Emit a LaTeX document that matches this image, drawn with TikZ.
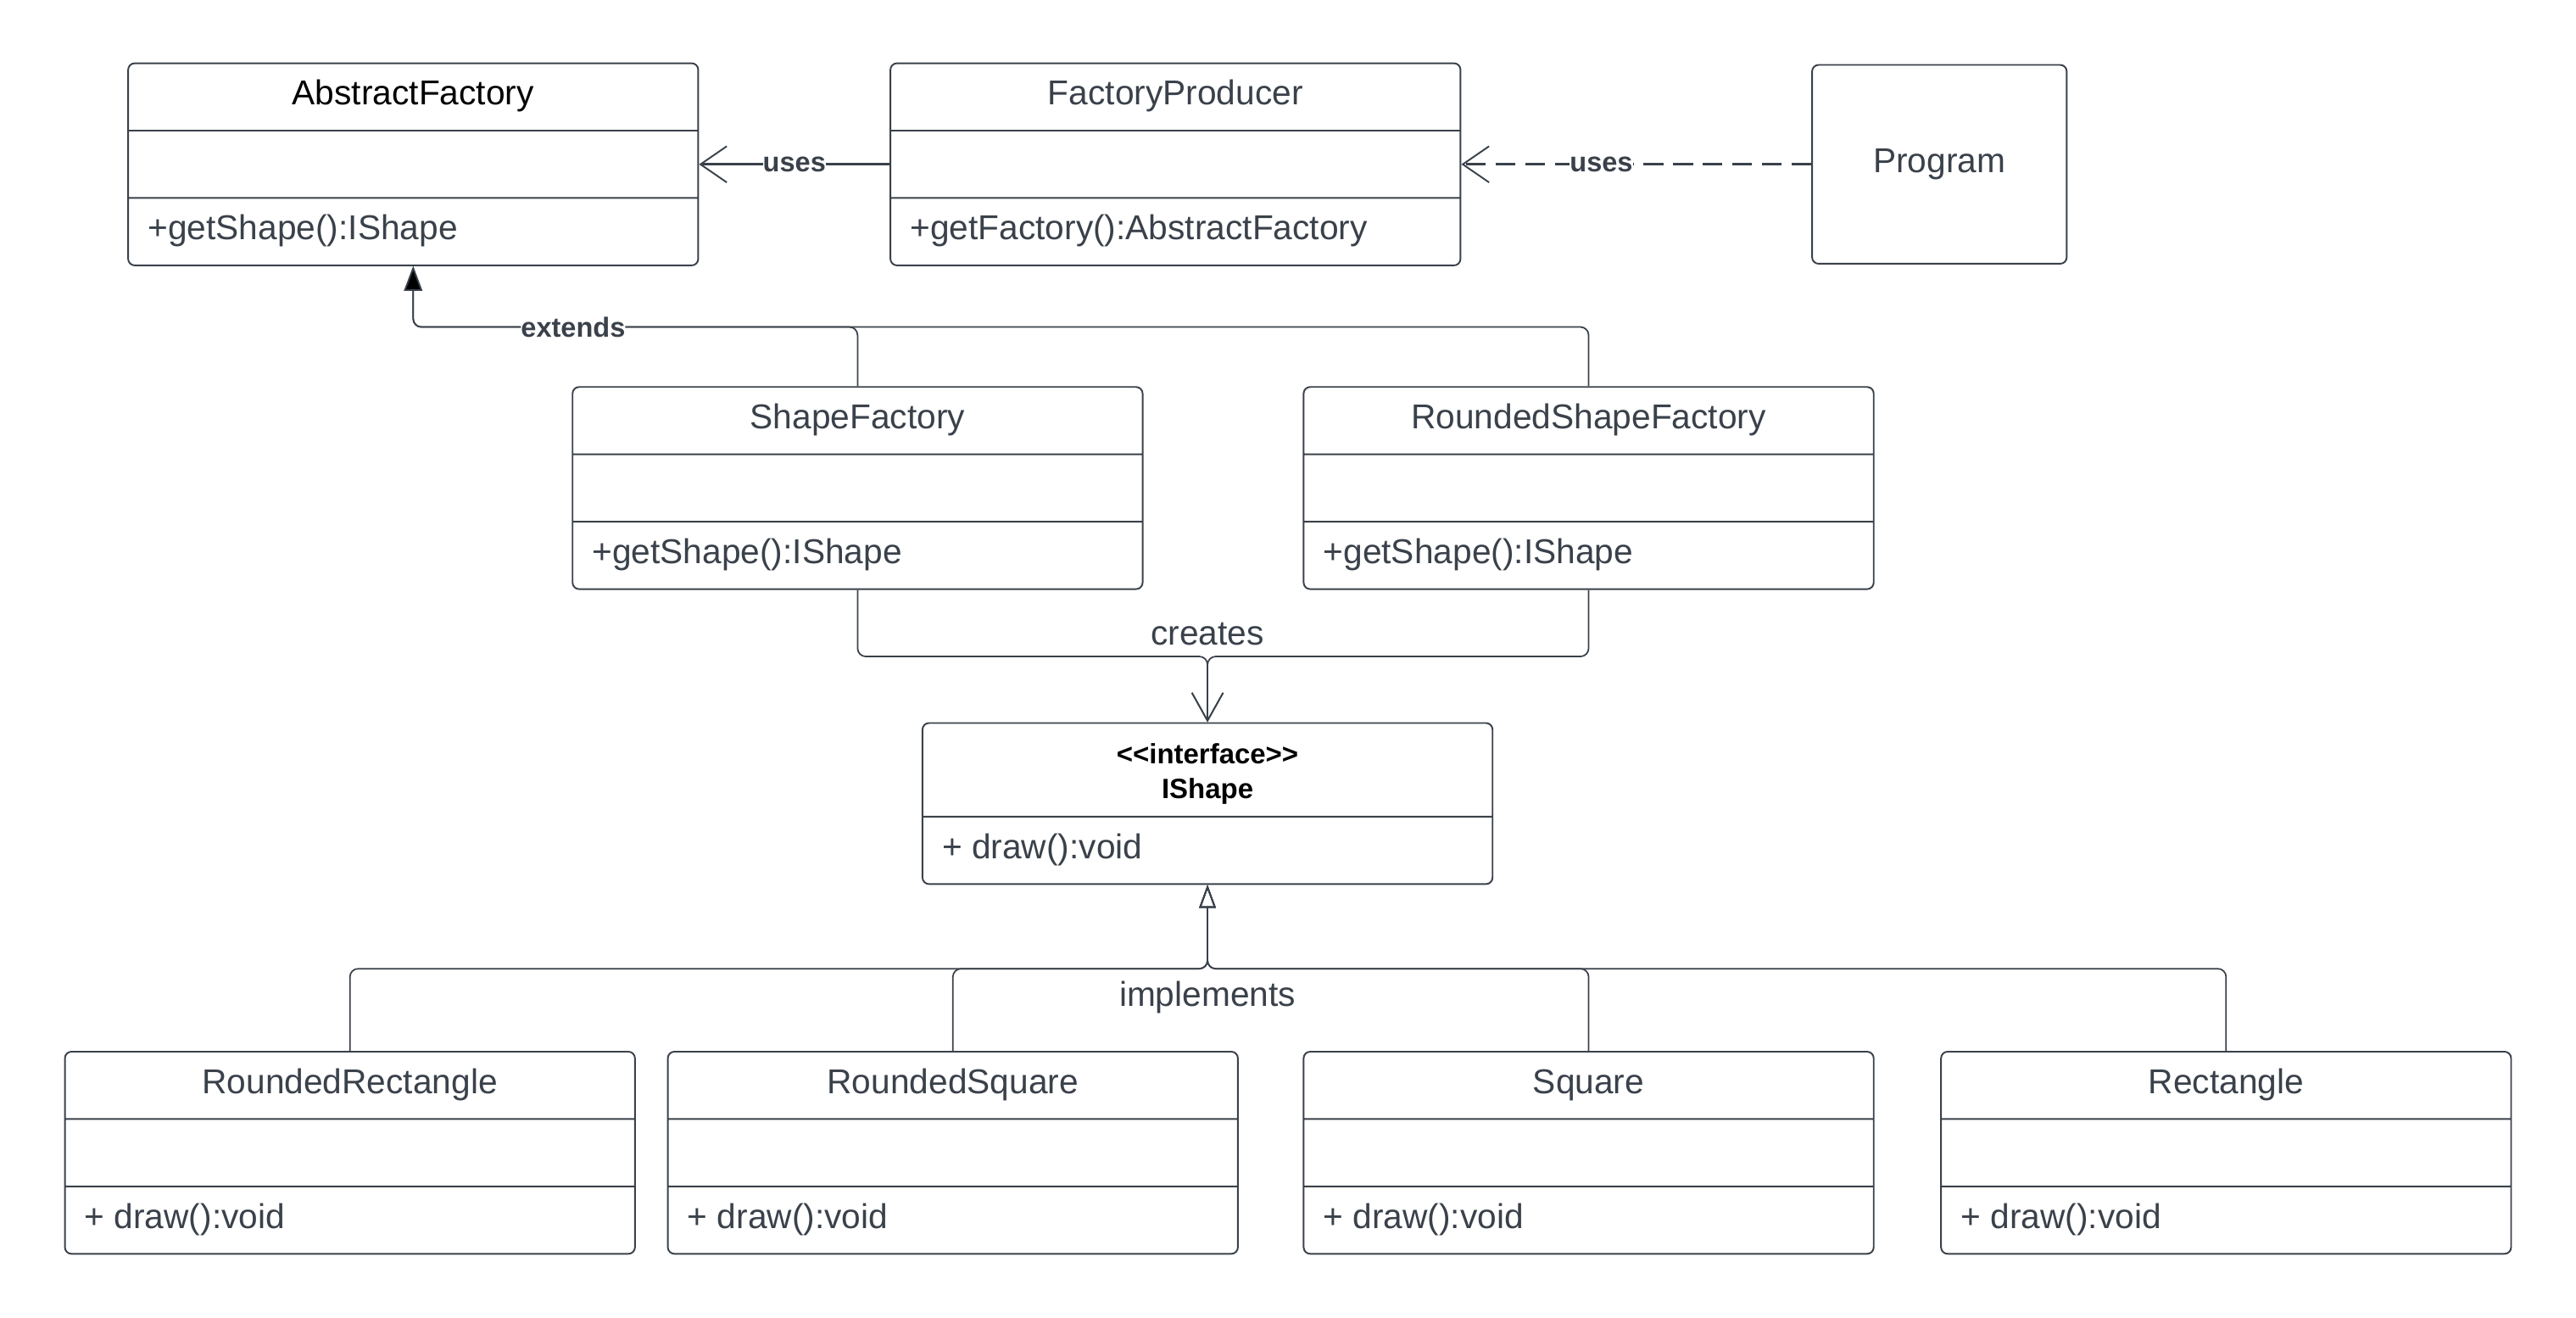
\documentclass[tikz,border=0pt]{standalone}
\usepackage{fontspec}
\setmainfont{Liberation Sans}
\usetikzlibrary{shapes.multipart,positioning,calc,arrows.meta}
\definecolor{umlgray}{RGB}{58,65,74}
\newcommand{\headpart}[2][40pt]{\parbox[c][#1][c]{323pt}{\centering\strut #2}}
\newcommand{\bodypart}[2][40pt]{\parbox[c][#1][c]{323pt}{\strut #2}}

\begin{document}
\begin{tikzpicture}[
      x=1pt, y=-1pt,
      cls/.style = {rectangle split, rectangle split parts=3, draw=umlgray, line width=1pt,
                    rounded corners=4pt, inner xsep=12pt, inner ysep=0pt, text=umlgray,
                    font=\fontsize{21}{25}\selectfont},
      iface/.style = {cls, rectangle split parts=2},
      plain/.style = {draw=umlgray, line width=1pt, rounded corners=4pt, minimum width=155pt,
                      minimum height=121pt, text=umlgray, font=\fontsize{21}{25}\selectfont},
      lbl/.style = {font=\bfseries\fontsize{16.8}{20}\selectfont, text=umlgray, fill=white, inner sep=0pt},
      rel/.style = {font=\fontsize{21}{25}\selectfont, text=umlgray, inner sep=0pt, anchor=base},
      uses/.style = {draw=umlgray, line width=1.5pt, -{Straight Barb[length=16pt,width=22pt,line width=1pt]}},
      link/.style = {draw=umlgray, line width=0.9pt, rounded corners=5pt},
      ext/.style = {link, -{Triangle[length=15pt,width=11pt]}},
      create/.style = {link, -{Straight Barb[length=17pt,width=19pt,line width=0.9pt]}},
      impl/.style = {link, -{Triangle[open,length=14pt,width=10pt,line width=0.9pt]}}
      ]
      \useasboundingbox (0,0) rectangle (1568,802);
      % factories
      \node[cls] (af) at (251.5,100) {\headpart{\color{black}AbstractFactory}\nodepart{two}\bodypart{}\nodepart{three}\bodypart{+getShape():IShape}};
      \node[cls, right=116pt of af] (fp) {\headpart{FactoryProducer}\nodepart{two}\bodypart{}\nodepart{three}\bodypart{+getFactory():AbstractFactory}};
      \node[plain, right=213pt of fp] (prog) {Program};
      \node[cls] (sf) at (522,297) {\headpart{ShapeFactory}\nodepart{two}\bodypart{}\nodepart{three}\bodypart{+getShape():IShape}};
      \node[cls, right=97pt of sf] (rsf) {\headpart{RoundedShapeFactory}\nodepart{two}\bodypart{}\nodepart{three}\bodypart{+getShape():IShape}};
      % shapes
      \node[iface] (ishape) at (735,489) {\headpart[56pt]{\color{black}\bfseries\fontsize{17}{21}\selectfont <\kern0pt<interface>\kern0pt>\\IShape}\nodepart{two}\bodypart{+ draw():void}};
      \node[cls] (rr) at (213,701.5) {\headpart{RoundedRectangle}\nodepart{two}\bodypart{}\nodepart{three}\bodypart{+ draw():void}};
      \node[cls, right=19pt of rr] (rsq) {\headpart{RoundedSquare}\nodepart{two}\bodypart{}\nodepart{three}\bodypart{+ draw():void}};
      \node[cls, right=39pt of rsq] (sq) {\headpart{Square}\nodepart{two}\bodypart{}\nodepart{three}\bodypart{+ draw():void}};
      \node[cls, right=40pt of sq] (rect) {\headpart{Rectangle}\nodepart{two}\bodypart{}\nodepart{three}\bodypart{+ draw():void}};

      \coordinate (extj) at ($(af.south)+(0,37)$);
      \coordinate (crj) at ($(ishape.north)+(0,-40)$);
      \coordinate (imj) at ($(ishape.south)+(0,51)$);

      \draw[uses] (fp.west) -- node[lbl] {uses} (af.east);
      \draw[uses, dashed, dash pattern=on 12pt off 6pt] (prog.west) -- node[lbl, pos=0.6] {uses} (fp.east);

      \draw[ext] (rsf.north) |- (extj) -- (af.south);
      \draw[ext] (sf.north) |- node[lbl, pos=0.82] {extends} (extj) -- (af.south);

      \draw[create] (sf.south) |- (crj) -- (ishape.north);
      \draw[create] (rsf.south) |- (crj) node[rel, yshift=7pt] {creates} -- (ishape.north);

      \draw[impl] (rr.north) |- (imj) -- (ishape.south);
      \draw[impl] (rsq.north) |- (imj) -- (ishape.south);
      \draw[impl] (sq.north) |- (imj) -- (ishape.south);
      \draw[impl] (rect.north) |- (imj) node[rel, yshift=-23pt] {implements} -- (ishape.south);
\end{tikzpicture}
\end{document}
